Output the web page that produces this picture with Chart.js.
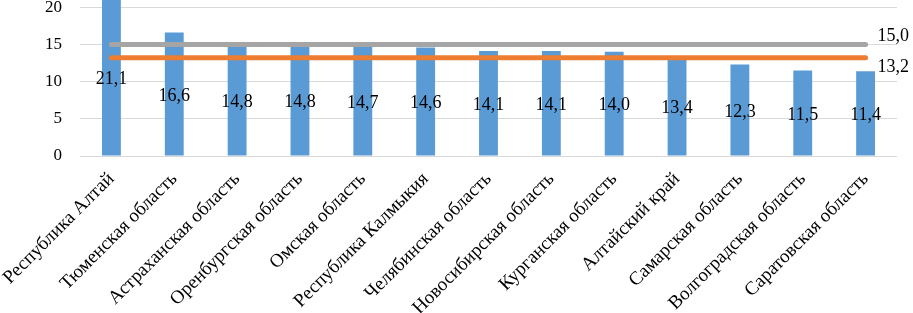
<!DOCTYPE html>
<html>
<head>
<meta charset="utf-8">
<script src="https://cdn.jsdelivr.net/npm/chart.js@4.4.1/dist/chart.umd.min.js"></script>
<style>
  html, body { margin: 0; padding: 0; background: #fff; overflow: hidden; }
  #wrap { position: absolute; left: 0; top: -40px; width: 913px; height: 353px; }
</style>
</head>
<body>
<div id="wrap"><canvas id="chart" width="913" height="353"></canvas></div>
<script>
// data
var regions = ["Республика Алтай", "Тюменская область", "Астраханская область", "Оренбургская область",
  "Омская область", "Республика Калмыкия", "Челябинская область", "Новосибирская область",
  "Курганская область", "Алтайский край", "Самарская область", "Волгоградская область", "Саратовская область"];
var values = [21.1, 16.6, 14.8, 14.8, 14.7, 14.6, 14.1, 14.1, 14.0, 13.4, 12.3, 11.5, 11.4];
var levelGray = 15.0;
var levelOrange = 13.2;
var yTicks = [0, 5, 10, 15, 20, 25];

var serif = "'Liberation Serif', 'Times New Roman', serif";

function fmt(v) {
  return v.toFixed(1).replace(".", ",");
}

// value labels: bar values in the middle of each bar, line values at the right end
var labelPlugin = {
  id: "labels",
  afterDatasetsDraw: function(chart) {
    var ctx = chart.ctx;
    var yScale = chart.scales.y;
    ctx.save();
    ctx.fillStyle = "#000";
    ctx.font = "18px " + serif;
    ctx.textAlign = "center";
    ctx.textBaseline = "middle";
    chart.getDatasetMeta(0).data.forEach(function(bar, i) {
      var mid = (bar.y + bar.base) / 2;
      ctx.fillText(fmt(values[i]), bar.x, mid + 2);
    });
    ctx.textAlign = "left";
    var lastX = chart.getDatasetMeta(1).data[regions.length - 1].x;
    ctx.fillText(fmt(levelGray), lastX + 12, yScale.getPixelForValue(levelGray) - 8);
    ctx.fillText(fmt(levelOrange), lastX + 12, yScale.getPixelForValue(levelOrange) + 9);
    ctx.restore();
  }
};

var ctx = document.getElementById("chart").getContext("2d");
var myChart = new Chart(ctx, {
  data: {
    labels: regions,
    datasets: [
      {
        type: "bar",
        data: values,
        backgroundColor: "#5B9BD5",
        categoryPercentage: 1,
        barPercentage: 0.3,
        order: 3
      },
      {
        type: "line",
        data: regions.map(function() { return levelGray; }),
        borderColor: "#A5A5A5",
        borderWidth: 5,
        borderCapStyle: "round",
        pointRadius: 0,
        order: 1
      },
      {
        type: "line",
        data: regions.map(function() { return levelOrange; }),
        borderColor: "#ED7D31",
        borderWidth: 5,
        borderCapStyle: "round",
        pointRadius: 0,
        order: 2
      }
    ]
  },
  options: {
    responsive: false,
    animation: false,
    layout: { padding: { top: 10, right: 16, left: 0, bottom: 0 } },
    plugins: {
      legend: { display: false },
      tooltip: { enabled: false }
    },
    scales: {
      x: {
        offset: true,
        grid: { display: false },
        border: { display: false },
        afterFit: function(scale) {
          scale.height = 157;
          scale.paddingLeft = 0;
          scale.paddingRight = 0;
        },
        ticks: {
          color: "#000",
          font: { family: serif, size: 19 },
          minRotation: 45,
          maxRotation: 45,
          autoSkip: false,
          padding: 4
        }
      },
      y: {
        min: yTicks[0],
        max: yTicks[yTicks.length - 1],
        afterBuildTicks: function(scale) {
          scale.ticks = yTicks.map(function(v) { return { value: v }; });
        },
        afterFit: function(scale) {
          scale.width = 80;
          scale.paddingTop = 0;
          scale.paddingBottom = 0;
        },
        grid: { color: "#D9D9D9", lineWidth: 1, drawTicks: false },
        border: { display: false },
        ticks: {
          color: "#000",
          font: { family: serif, size: 17 },
          padding: 18
        }
      }
    }
  },
  plugins: [labelPlugin]
});
</script>
</body>
</html>
